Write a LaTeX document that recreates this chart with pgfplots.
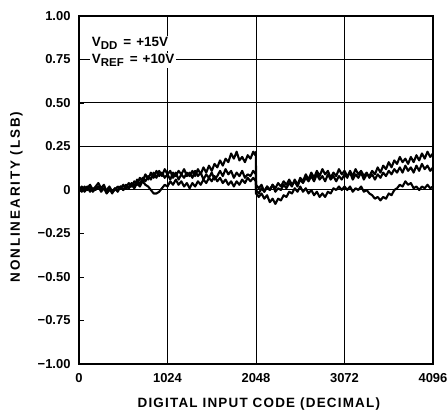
\documentclass[border=0pt]{standalone}
\usepackage{pgfplots}
\pgfplotsset{compat=1.18}
\usepackage{pgfplotstable}
\usepackage{fontspec}
\setmainfont{Liberation Sans}
\newfontfamily\xlblfont[LetterSpace=9]{Liberation Sans}
\newfontfamily\ylblfont[LetterSpace=14]{Liberation Sans}

\pgfplotstableread{
x y
0 0.00
32 0.02
64 -0.01
96 0.01
128 0.03
160 0.00
192 0.02
224 0.04
256 0.01
288 0.03
320 -0.01
352 0.01
384 -0.02
416 0.01
448 -0.01
480 0.02
512 0.00
544 0.03
576 0.01
608 0.04
640 0.02
672 0.06
704 0.03
736 0.07
768 0.05
800 0.08
832 0.06
864 0.10
896 0.07
928 0.11
960 0.08
992 0.12
1024 0.09
1056 0.11
1088 0.07
1120 0.10
1152 0.06
1184 0.09
1216 0.07
1248 0.10
1280 0.08
1312 0.11
1344 0.08
1376 0.12
1408 0.09
1440 0.13
1472 0.10
1504 0.14
1536 0.11
1568 0.15
1600 0.13
1632 0.17
1664 0.14
1696 0.18
1728 0.16
1760 0.21
1792 0.18
1824 0.22
1856 0.17
1888 0.19
1920 0.16
1952 0.20
1984 0.18
2016 0.22
2040 0.20
2047 0.22
2048 0.03
2080 0.01
2112 0.03
2144 -0.01
2176 0.02
2208 0.00
2240 0.03
2272 -0.01
2304 0.01
2336 0.00
2368 0.03
2400 0.01
2432 0.04
2464 0.02
2496 0.06
2528 0.03
2560 0.07
2592 0.05
2624 0.09
2656 0.06
2688 0.10
2720 0.07
2752 0.11
2784 0.08
2816 0.12
2848 0.09
2880 0.11
2912 0.07
2944 0.10
2976 0.08
3008 0.12
3040 0.09
3072 0.11
3104 0.08
3136 0.10
3168 0.06
3200 0.09
3232 0.07
3264 0.10
3296 0.06
3328 0.09
3360 0.08
3392 0.11
3424 0.09
3456 0.13
3488 0.10
3520 0.14
3552 0.12
3584 0.16
3616 0.13
3648 0.17
3680 0.15
3712 0.19
3744 0.16
3776 0.18
3808 0.15
3840 0.19
3872 0.16
3904 0.20
3936 0.17
3968 0.21
4000 0.18
4032 0.22
4064 0.19
4096 0.21
}\traceA

\pgfplotstableread{
x y
0 0.01
32 -0.01
64 0.02
96 0.00
128 0.02
160 -0.01
192 0.01
224 0.02
256 -0.01
288 0.01
320 0.00
352 0.02
384 -0.01
416 0.00
448 0.02
480 0.01
512 0.03
544 0.01
576 0.04
608 0.02
640 0.05
672 0.03
704 0.07
736 0.05
768 0.09
800 0.06
832 0.10
864 0.07
896 0.11
928 0.08
960 0.10
992 0.07
1024 0.09
1056 0.06
1088 0.10
1120 0.08
1152 0.11
1184 0.09
1216 0.12
1248 0.08
1280 0.10
1312 0.07
1344 0.11
1376 0.08
1408 0.10
1440 0.06
1472 0.09
1504 0.07
1536 0.10
1568 0.06
1600 0.08
1632 0.11
1664 0.08
1696 0.12
1728 0.09
1760 0.11
1792 0.07
1824 0.10
1856 0.08
1888 0.11
1920 0.07
1952 0.09
1984 0.08
2016 0.11
2047 0.09
2048 0.00
2080 -0.02
2112 0.01
2144 -0.01
2176 0.02
2208 0.00
2240 0.03
2272 0.01
2304 0.04
2336 0.02
2368 0.05
2400 0.03
2432 0.06
2464 0.03
2496 0.05
2528 0.02
2560 0.06
2592 0.04
2624 0.07
2656 0.05
2688 0.08
2720 0.05
2752 0.09
2784 0.06
2816 0.08
2848 0.05
2880 0.09
2912 0.06
2944 0.08
2976 0.05
3008 0.08
3040 0.06
3072 0.09
3104 0.07
3136 0.11
3168 0.08
3200 0.12
3232 0.09
3264 0.11
3296 0.08
3328 0.10
3360 0.07
3392 0.09
3424 0.06
3456 0.09
3488 0.07
3520 0.10
3552 0.08
3584 0.11
3616 0.09
3648 0.12
3680 0.10
3712 0.13
3744 0.10
3776 0.14
3808 0.11
3840 0.13
3872 0.10
3904 0.14
3936 0.11
3968 0.15
4000 0.12
4032 0.14
4064 0.11
4096 0.13
}\traceB

\pgfplotstableread{
x y
0 -0.01
32 0.01
64 0.00
96 0.02
128 -0.01
160 0.01
192 0.00
224 0.02
256 0.00
288 0.01
320 -0.02
352 0.00
384 -0.01
416 0.01
448 0.00
480 0.02
512 0.00
544 0.02
576 0.01
608 0.03
640 0.01
672 0.04
704 0.02
736 0.05
768 0.03
800 0.02
832 0.00
864 -0.02
896 -0.02
928 -0.01
960 0.01
992 0.03
1024 0.02
1056 0.05
1088 0.03
1120 0.06
1152 0.03
1184 0.05
1216 0.02
1248 0.04
1280 0.01
1312 0.04
1344 0.02
1376 0.05
1408 0.03
1440 0.06
1472 0.04
1504 0.07
1536 0.05
1568 0.08
1600 0.05
1632 0.07
1664 0.04
1696 0.06
1728 0.03
1760 0.05
1792 0.02
1824 0.05
1856 0.03
1888 0.06
1920 0.04
1952 0.07
1984 0.05
2016 0.07
2047 0.05
2048 -0.02
2080 -0.04
2112 -0.02
2144 -0.05
2176 -0.03
2208 -0.07
2240 -0.05
2272 -0.08
2304 -0.05
2336 -0.06
2368 -0.03
2400 -0.04
2432 -0.01
2464 -0.02
2496 0.01
2528 -0.01
2560 0.02
2592 -0.01
2624 0.01
2656 -0.02
2688 0.00
2720 -0.03
2752 -0.01
2784 -0.04
2816 -0.02
2848 -0.04
2880 -0.01
2912 -0.02
2944 0.01
2976 0.00
3008 0.02
3040 0.00
3072 0.02
3104 0.00
3136 0.02
3168 -0.01
3200 0.01
3232 0.00
3264 0.02
3296 -0.01
3328 0.00
3360 -0.02
3392 -0.03
3424 -0.05
3456 -0.04
3488 -0.06
3520 -0.04
3552 -0.05
3584 -0.02
3616 -0.03
3648 0.00
3680 0.01
3712 0.03
3744 0.02
3776 0.05
3808 0.03
3840 0.04
3872 0.01
3904 0.02
3936 0.00
3968 0.02
4000 0.01
4032 0.03
4064 0.01
4096 0.02
}\traceC

\begin{document}
\begin{tikzpicture}
\useasboundingbox (-79bp,-47bp) rectangle (368bp,364bp);
\begin{axis}[
  at={(0,0)}, anchor=south west,
  scale only axis,
  width=354bp, height=348bp,
  xmin=0, xmax=4096, ymin=-1, ymax=1,
  xtick={0,1024,2048,3072,4096},
  xticklabels={0,1024,2048,3072,4096},
  ytick={-1,-0.75,-0.5,-0.25,0,0.25,0.5,0.75,1},
  yticklabels={−1.00,−0.75,−0.50,−0.25,0,0.25,0.50,0.75,1.00},
  xmajorgrids=true,
  major grid style={black, line width=1bp},
  axis line style={line width=1.6bp},
  tick align=inside,
  ytick pos=left, xtick pos=bottom,
  major tick length=5bp,
  tick style={black, line width=0.9bp},
  xticklabel style={font=\bfseries\fontsize{13}{13}\selectfont, yshift=-6bp},
  yticklabel style={font=\bfseries\fontsize{13}{13}\selectfont, xshift=-5bp},
  xlabel={\xlblfont\bfseries DIGITAL INPUT CODE (DECIMAL)},
  ylabel={\ylblfont\bfseries NONLINEARITY (LSB)},
  xlabel style={at={(axis description cs:0.508,-0.115)}, anchor=center, font=\fontsize{13.5}{14}\selectfont},
  ylabel style={at={(axis description cs:-0.177,0.48)}, anchor=center, font=\fontsize{13.5}{14}\selectfont},
  clip=true,
]
\draw[black, line width=1bp] (axis cs:0,0.75) -- (axis cs:4096,0.75);
\draw[black, line width=1bp] (axis cs:0,0.5) -- (axis cs:4096,0.5);
\draw[black, line width=1bp] (axis cs:0,0.25) -- (axis cs:4096,0.25);
\draw[black, line width=1bp] (axis cs:0,0) -- (axis cs:4096,0);
\addplot[black, line width=2.1bp, line join=round] table[x=x,y=y] {\traceA};
\addplot[black, line width=2.1bp, line join=round] table[x=x,y=y] {\traceB};
\addplot[black, line width=2.1bp, line join=round] table[x=x,y=y] {\traceC};
\node[anchor=west, fill=white, inner sep=1.5bp, font=\bfseries\fontsize{13.5}{14}\selectfont] at (axis cs:130,0.842) {V\raisebox{-2.5bp}{\fontsize{11.5}{12}\selectfont DD}\hspace{6bp}=\hspace{5bp}+15V};
\node[anchor=west, fill=white, inner sep=1.5bp, font=\bfseries\fontsize{13.5}{14}\selectfont] at (axis cs:130,0.745) {V\raisebox{-2.5bp}{\fontsize{11.5}{12}\selectfont REF}\hspace{6bp}=\hspace{5bp}+10V};
\end{axis}
\end{tikzpicture}
\end{document}
